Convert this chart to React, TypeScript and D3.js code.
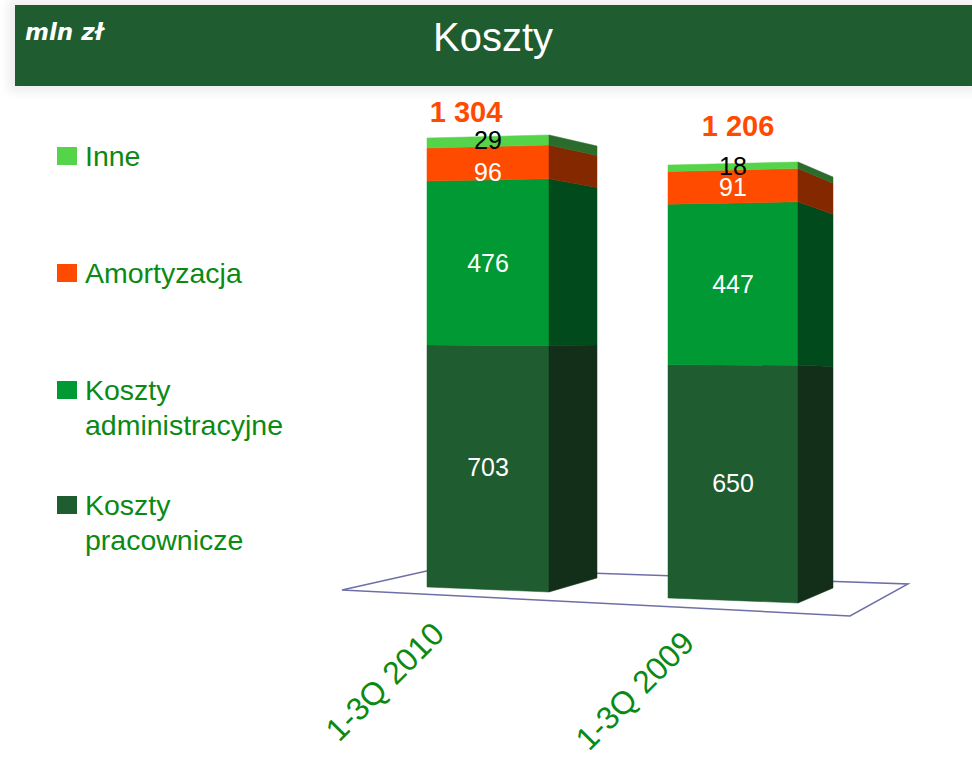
import * as d3 from 'd3';
import * as React from 'react';

// values in mln zł
const categories = ['1-3Q 2010', '1-3Q 2009'];
const seriesKeys = ['pracownicze', 'administracyjne', 'amortyzacja', 'inne'];
const pracownicze = [703, 650];
const administracyjne = [476, 447];
const amortyzacja = [96, 91];
const inne = [29, 18];
const totalLabels = ['1 304', '1 206'];

const legendLabels = [['Inne'], ['Amortyzacja'], ['Koszty', 'administracyjne'], ['Koszty', 'pracownicze']];
const legendKeys = ['inne', 'amortyzacja', 'administracyjne', 'pracownicze'];

const frontColor: Record<string, string> = {
  pracownicze: '#1f5c30',
  administracyjne: '#009933',
  amortyzacja: '#ff4b00',
  inne: '#55d44a',
};
const sideColor: Record<string, string> = {
  pracownicze: '#132e19',
  administracyjne: '#004a1b',
  amortyzacja: '#842800',
  inne: '#2b6b2b',
};
const labelColor: Record<string, string> = {
  pracownicze: '#fff',
  administracyjne: '#fff',
  amortyzacja: '#fff',
  inne: '#000',
};

// perspective layout of each bar: x of the three vertical edges,
// their bottom y and pixels per unit (front-left, front-right, side-right)
const barLayout = [
  {
    xs: [427, 549, 597], bottom: [587, 592, 578], k: [0.3443, 0.3505, 0.3313],
    total: [466, 122], cat: [446, 636], shift: { amortyzacja: 9, inne: -2 } as Record<string, number>,
  },
  {
    xs: [668, 798, 833], bottom: [598, 603, 588], k: [0.359, 0.3657, 0.3408],
    total: [738, 136], cat: [696, 645], shift: { inne: -1 } as Record<string, number>,
  },
];

const floor: [number, number][] = [[342, 590], [440, 568], [908, 584], [850, 616]];

const FONT = '"Liberation Sans", Arial, sans-serif';

export default function App() {
  const width = 972;
  const height = 758;

  const rows = categories.map((c, i) => ({
    cat: c,
    pracownicze: pracownicze[i],
    administracyjne: administracyjne[i],
    amortyzacja: amortyzacja[i],
    inne: inne[i],
  }));
  const stacked = d3.stack<any>().keys(seriesKeys)(rows);

  // one linear scale per visible vertical edge of each bar
  const edgeScales = barLayout.map(b =>
    b.xs.map((_, e) => d3.scaleLinear().domain([0, 1000]).range([b.bottom[e], b.bottom[e] - b.k[e] * 1000]))
  );

  const pts = (p: [number, number][]) => p.map(d => d.join(',')).join(' ');

  return (
    <svg width={width} height={height} style={{ position: 'absolute', left: 0, top: 0, background: '#fff' }}>
      <defs>
        <filter id="hdrShadow" x="-5%" y="-20%" width="110%" height="160%">
          <feGaussianBlur stdDeviation="5" />
        </filter>
      </defs>

      {/* header */}
      <rect x={8} y={0} width={972} height={92} fill="#eeeeee" filter="url(#hdrShadow)" />
      <rect x={15} y={5} width={957} height={81} fill="#1f5c30" />
      <text x={25} y={40} fill="#fff" fontFamily='"DejaVu Sans", Verdana, sans-serif' fontWeight="bold" fontStyle="italic" fontSize={23}>
        mln zł
      </text>
      <text x={493} y={51} fill="#fff" fontFamily={FONT} fontSize={40} textAnchor="middle">
        Koszty
      </text>

      {/* floor */}
      <polygon points={pts(floor)} fill="none" stroke="#6f6fa8" strokeWidth={1.5} />

      {/* bars */}
      {barLayout.map((b, i) => {
        const [sl, sr, ss] = edgeScales[i];
        return (
          <g key={categories[i]}>
            {stacked.map(s => {
              const [y0, y1] = s[i];
              const front: [number, number][] = [[b.xs[0], sl(y0)], [b.xs[1], sr(y0)], [b.xs[1], sr(y1)], [b.xs[0], sl(y1)]];
              const side: [number, number][] = [[b.xs[1], sr(y0)], [b.xs[2], ss(y0)], [b.xs[2], ss(y1)], [b.xs[1], sr(y1)]];
              return (
                <g key={s.key}>
                  <polygon points={pts(front)} fill={frontColor[s.key]} stroke={frontColor[s.key]} strokeWidth={0.5} />
                  <polygon points={pts(side)} fill={sideColor[s.key]} stroke={sideColor[s.key]} strokeWidth={0.5} />
                </g>
              );
            })}
            {stacked.map(s => {
              const [y0, y1] = s[i];
              const mid = (y0 + y1) / 2;
              const cx = (b.xs[0] + b.xs[1]) / 2;
              const cy = (sl(mid) + sr(mid)) / 2 + (b.shift[s.key] || 0);
              return (
                <text key={s.key} x={cx} y={cy} dy="0.36em" textAnchor="middle" fill={labelColor[s.key]} fontFamily={FONT} fontSize={25}>
                  {s[i].data[s.key]}
                </text>
              );
            })}
            <text x={b.total[0]} y={b.total[1]} textAnchor="middle" fill="#ff4b00" fontFamily={FONT} fontWeight="bold" fontSize={29}>
              {totalLabels[i]}
            </text>
            <text
              x={b.cat[0]}
              y={b.cat[1]}
              textAnchor="end"
              fill="#0a8a14"
              fontFamily={FONT}
              fontSize={32}
              transform={`rotate(-45 ${b.cat[0]} ${b.cat[1]})`}
            >
              {categories[i]}
            </text>
          </g>
        );
      })}

      {/* legend */}
      {legendKeys.map((key, i) => {
        const base = [166, 283, 400, 515][i];
        return (
          <g key={key}>
            <rect x={57} y={base - 19} width={20} height={18} fill={frontColor[key]} />
            <text x={85} y={base} fill="#0a8a14" fontFamily={FONT} fontSize={28.5}>
              {legendLabels[i].map((line, j) => (
                <tspan key={j} x={85} dy={j === 0 ? 0 : 35}>
                  {line}
                </tspan>
              ))}
            </text>
          </g>
        );
      })}
    </svg>
  );
}
